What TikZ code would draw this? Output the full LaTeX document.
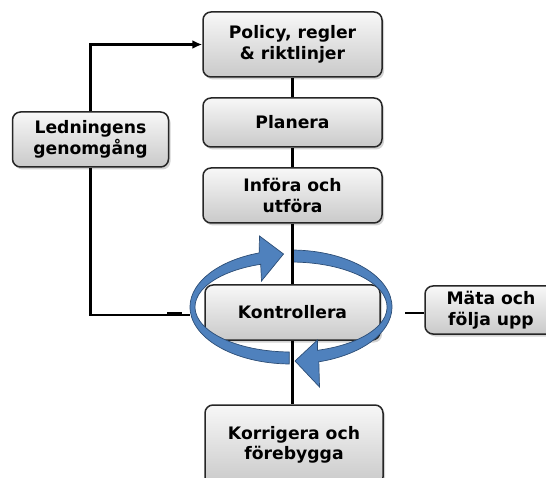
\documentclass[tikz,border=0pt]{standalone}
\usepackage{fontspec}
\setmainfont{DejaVu Sans}
\usetikzlibrary{shadows,arrows.meta}
\definecolor{ringblue}{HTML}{4F81BD}
\definecolor{ringedge}{HTML}{2C4D75}
\tikzset{
  box/.style={draw=black!85, line width=1.5pt, rounded corners=8pt,
    top color=gray!6, bottom color=gray!42, align=center,
    font=\fontsize{17.2}{20.5}\selectfont\bfseries, text=black, inner sep=0pt,
    drop shadow={shadow xshift=2pt, shadow yshift=-2.5pt, opacity=0.35}},
  link/.style={line width=2.6pt, black},
  ring/.style={fill=ringblue, draw=ringedge, line width=0.7pt}
}
\begin{document}
\begin{tikzpicture}[x=1pt,y=1pt]
\useasboundingbox (0,0) rectangle (546,-478);
% main column
\node[box, minimum width=179pt, minimum height=65pt] (pol) at (292.5,-44.5) {Policy, regler\\\& riktlinjer};
\node[box, minimum width=179pt, minimum height=49pt] (pla) at (292.5,-122.5) {Planera};
\node[box, minimum width=179pt, minimum height=55pt] (inf) at (292.5,-195.5) {Införa och\\utföra};
\node[box, minimum width=175pt, minimum height=55pt] (kon) at (292.5,-312.5) {Kontrollera};
\node[box, minimum width=178pt, minimum height=80pt] (kor) at (294,-445) {Korrigera och\\förebygga};
% side boxes
\node[box, minimum width=156pt, minimum height=55pt] (led) at (90.5,-139.5) {Ledningens\\genomgång};
\node[box, minimum width=132pt, minimum height=48pt] (mat) at (491,-310) {Mäta och\\följa upp};
% connectors
\coordinate (lend) at (190,-315);
\coordinate (mline) at (405,-313);
\draw[link, -{Latex[length=10pt,width=9pt]}] (led.north) |- (pol.west);
\draw[link] (led.south) |- (lend);
\draw[line width=3.5pt] (167,-313.5) -- (182,-313.5);
\draw[link] (mline) -- (mline -| mat.west);
% ring arrows
\path[ring] (289.24,-363.99) arc[start angle=269, end angle=108.4, x radius=101pt, y radius=57pt]
  -- (259.5,-236) -- (283.5,-254) -- (261.5,-281) -- (260.7,-264.3)
  arc[start angle=108.4, end angle=269, x radius=96pt, y radius=45pt] -- cycle;
\path[ring] (292.76,-250.01) arc[start angle=89, end angle=-74, x radius=101pt, y radius=57pt]
  -- (319.5,-387) -- (295,-361) -- (317.5,-340) -- (317.5,-350.3)
  arc[start angle=-74, end angle=89, x radius=96pt, y radius=45pt] -- cycle;
% vertical links
\draw[link] (pol.south) -- (pla.north);
\draw[link] (pla.south) -- (inf.north);
\draw[link] (inf.south) -- (kon.north);
\draw[link] (kon.south) -- (kon.south |- kor.north);
\end{tikzpicture}
\end{document}
